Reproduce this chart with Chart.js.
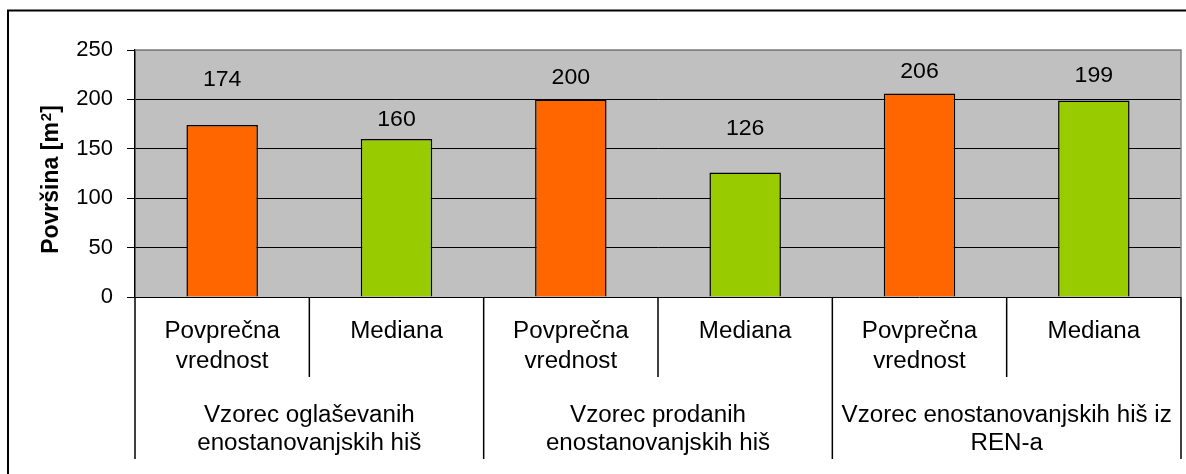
<!DOCTYPE html>
<html>
<head>
<meta charset="utf-8">
<script src="https://cdn.jsdelivr.net/npm/chart.js@4/dist/chart.umd.min.js"></script>
<style>
  html, body { margin: 0; padding: 0; background: #fff; }
  #wrap { width: 1186px; height: 474px; position: relative; }
</style>
</head>
<body>
<div id="wrap"><canvas id="chart"></canvas></div>
<script>
// Data
const categories = ['Povprečna vrednost', 'Mediana', 'Povprečna vrednost', 'Mediana', 'Povprečna vrednost', 'Mediana'];
const categoryLines = [['Povprečna', 'vrednost'], ['Mediana'], ['Povprečna', 'vrednost'], ['Mediana'], ['Povprečna', 'vrednost'], ['Mediana']];
const groups = [
    ['Vzorec oglaševanih', 'enostanovanjskih hiš'],
    ['Vzorec prodanih', 'enostanovanjskih hiš'],
    ['Vzorec enostanovanjskih hiš iz', 'REN-a']
];
const values = [174, 160, 200, 126, 206, 199];
const yMin = 0, yMax = 250, yStep = 50;
const yTitleParts = ['Površina [m', '2', ']'];

const FONT = '"Liberation Sans", Arial, sans-serif';
const STRETCH = 1.05; // reference text is slightly wider than normal

function wideText(ctx, text, x, y) {
    ctx.save();
    ctx.translate(x, y);
    ctx.scale(STRETCH, 1);
    ctx.fillText(text, 0, 0);
    ctx.restore();
}

// Background, frame, value labels, y title and the two-level category axis
const decor = {
    id: 'decor',
    beforeDraw(chart) {
        const {ctx, chartArea: a} = chart;
        ctx.save();
        ctx.fillStyle = '#C0C0C0';
        ctx.fillRect(a.left, a.top, a.right - a.left, a.bottom - a.top);
        ctx.restore();
    },
    afterDraw(chart, args, opts) {
        const {ctx, chartArea: a} = chart;
        const xs = chart.scales.x;
        ctx.save();

        // plot area border (top, right)
        ctx.strokeStyle = '#808080';
        ctx.lineWidth = 1.5;
        ctx.beginPath();
        ctx.moveTo(a.left, a.top);
        ctx.lineTo(a.right, a.top);
        ctx.lineTo(a.right, a.bottom);
        ctx.stroke();

        // value labels
        ctx.fillStyle = '#000';
        ctx.font = '22px ' + FONT;
        ctx.textAlign = 'center';
        ctx.textBaseline = 'middle';
        chart.getDatasetMeta(0).data.forEach((bar, i) => {
            wideText(ctx, String(values[i]), bar.x, bar.y - opts.lift[i]);
        });

        // category boundaries
        const n = categories.length;
        const edges = [a.left];
        for (let i = 0; i < n - 1; i++) {
            edges.push((xs.getPixelForValue(i) + xs.getPixelForValue(i + 1)) / 2);
        }
        edges.push(a.right);

        ctx.strokeStyle = '#000';
        ctx.lineWidth = 1.5;
        edges.forEach((x, i) => {
            const isGroup = i % 2 === 0;
            ctx.beginPath();
            ctx.moveTo(x, a.bottom);
            ctx.lineTo(x, isGroup ? 459 : 377);
            ctx.stroke();
        });

        // category labels
        ctx.textBaseline = 'alphabetic';
        ctx.font = '23px ' + FONT;
        categoryLines.forEach((lines, i) => {
            const cx = (edges[i] + edges[i + 1]) / 2;
            lines.forEach((t, j) => wideText(ctx, t, cx, 338 + j * 30));
        });

        // group labels
        groups.forEach((lines, g) => {
            const cx = (edges[g * 2] + edges[g * 2 + 2]) / 2;
            lines.forEach((t, j) => wideText(ctx, t, cx, 422 + j * 28));
        });

        // y axis title with superscript
        const big = 'bold 23px ' + FONT, small = 'bold 15px ' + FONT;
        ctx.font = big;
        const w0 = ctx.measureText(yTitleParts[0]).width;
        const w2 = ctx.measureText(yTitleParts[2]).width;
        ctx.font = small;
        const w1 = ctx.measureText(yTitleParts[1]).width;
        const total = w0 + w1 + w2;
        ctx.translate(58, 180 + total / 2);
        ctx.rotate(-Math.PI / 2);
        ctx.textAlign = 'left';
        ctx.font = big;
        ctx.fillText(yTitleParts[0], 0, 0);
        ctx.font = small;
        ctx.fillText(yTitleParts[1], w0 + 1, -7);
        ctx.font = big;
        ctx.fillText(yTitleParts[2], w0 + w1 + 1, 0);
        ctx.setTransform(1, 0, 0, 1, 0, 0);

        // outer frame
        ctx.strokeStyle = '#000';
        ctx.lineWidth = 2;
        ctx.strokeRect(8, 10.5, 1400, 700);
        ctx.restore();
    }
};

new Chart(document.getElementById('chart'), {
    type: 'bar',
    data: {
        labels: categories,
        datasets: [{
            data: values,
            backgroundColor: ['#FF6600', '#99CC00', '#FF6600', '#99CC00', '#FF6600', '#99CC00'],
            borderColor: '#000',
            borderWidth: 1.5,
            barPercentage: 0.41,
            categoryPercentage: 1
        }]
    },
    options: {
        responsive: true,
        maintainAspectRatio: false,
        animation: false,
        layout: { padding: { left: 0, top: 50, right: 5, bottom: 177 } },
        plugins: {
            legend: { display: false },
            tooltip: { enabled: false },
            decor: { lift: [45, 19, 21, 44, 22, 24] }
        },
        scales: {
            x: { display: false },
            y: {
                min: yMin,
                max: yMax,
                afterFit(scale) { scale.width = 135; },
                ticks: {
                    stepSize: yStep,
                    color: '#000',
                    padding: 14,
                    font: { family: FONT, size: 22 }
                },
                grid: {
                    color: c => (c.tick && c.tick.value === yMax) ? '#808080' : '#000',
                    tickColor: '#000',
                    tickLength: 8,
                    lineWidth: 1
                },
                border: { color: '#000', width: 1.5 }
            }
        }
    },
    plugins: [decor]
});
</script>
</body>
</html>
